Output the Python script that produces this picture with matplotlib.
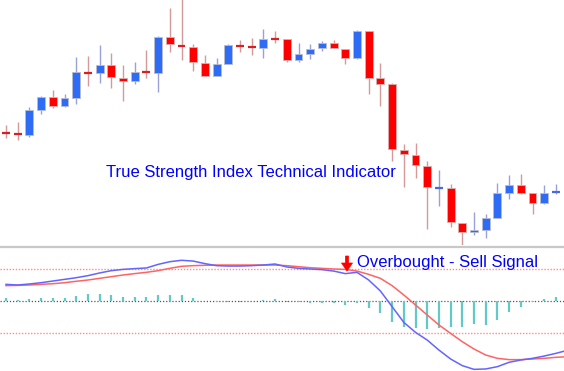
import matplotlib
matplotlib.use("Agg")
import matplotlib.pyplot as plt
from matplotlib.lines import Line2D
from matplotlib.patches import Polygon, Rectangle
import numpy as np

# ---------------- data ----------------
opens  = [112, 111, 110, 135, 148, 139, 147, 172, 172, 180, 167, 164, 173, 172, 208, 199,
          198, 182, 169, 181, 199, 198, 197, 206, 206, 185, 191, 197, 202, 196, 187, 214,
          167, 161, 95, 90, 79, 57, 57, 22, 13, 15, 27, 52, 60, 52, 42, 53, 59]
closes = [111.5, 110.5, 135, 148, 139, 147, 173, 171.5, 180, 168, 164, 173, 172.5, 208, 201, 198.5,
          183, 169, 181, 200, 198.5, 197.5, 206, 205.5, 185, 191, 196, 202, 197, 187, 214, 167,
          161, 96, 91, 80, 58, 57.5, 23, 13, 15, 27, 52, 60, 52, 42, 52, 53.5, 59.5]
highs  = [120, 123, 138, 149, 155, 151, 188, 189, 200, 192, 180, 183, 195, 209, 237, 250,
          201, 190, 187, 201, 205, 207, 216, 214, 206, 202, 201, 204, 205, 196, 215, 214,
          182, 162, 101, 102, 84, 75, 61, 22, 33, 31, 62, 70, 71, 52, 60, 61, 63]
lows   = [107, 105, 108, 131, 137, 138, 141, 159, 162, 157, 144, 161, 167, 153, 193, 185,
          174, 169, 169, 181, 193, 190, 187, 202, 183, 183, 186, 194, 197, 181, 186, 151,
          139, 84, 58, 67, 16, 39, 18, -2, 10, 7, 27, 46, 51, 31, 41, 51, 54]

tsi    = [13.0, 12.5, 13.3, 14.3, 15.6, 16.9, 18.2, 19.8, 21.9, 23.7, 24.7, 25.3, 25.8, 28.6,
          30.7, 31.8, 31.2, 29.2, 27.6, 27.3, 27.3, 27.6, 28.1, 28.9, 26.6, 25.5, 25.0, 24.5,
          23.4, 21.4, 22.4, 16.4, 7.8, -4.4, -16.7, -24.5, -30.5, -38.3, -45.3, -50.5, -53.4,
          -53.1, -51.3, -47.9, -46.1, -44.8, -43.0, -40.9, -38.5]
signal = [12.0, 12.2, 12.5, 13.0, 13.5, 14.3, 15.4, 16.4, 17.7, 19.0, 20.3, 21.4, 22.4, 23.7,
          25.5, 27.1, 27.6, 27.9, 28.1, 28.1, 28.1, 28.1, 28.1, 28.1, 27.6, 26.8, 26.0, 25.5,
          25.0, 24.7, 23.4, 20.8, 17.7, 12.0, 4.7, -3.1, -10.9, -18.7, -25.3, -31.8, -37.5,
          -42.2, -44.8, -45.8, -45.8, -45.3, -44.8, -44.0, -43.5]
hist   = [2.1, 0.8, 1.3, 2.6, 2.6, 2.1, 4.2, 5.2, 5.5, 4.7, 3.4, 3.4, 3.4, 4.7, 4.7, 4.7,
          2.6, 0.3, -0.5, -0.5, -0.5, 0.3, 0.8, 1.6, -0.5, -1.0, -1.6, -1.6, -1.8, -3.1, -1.8,
          -5.7, -9.6, -16.7, -20.1, -21.4, -21.9, -20.8, -20.1, -20.1, -18.2, -18.7, -14.8,
          -8.9, -4.4, -1.0, 1.3, 3.4]
levels = [25, -25]

title_text = "True Strength Index Technical Indicator"
signal_text = "Overbought - Sell Signal"

# ---------------- figure ----------------
W, H = 564, 371
fig = plt.figure(figsize=(W / 100, H / 100), dpi=100)
fig.patch.set_facecolor("white")

def px_rect(x0, y0, x1, y1):
    return [x0 / W, 1 - y1 / H, (x1 - x0) / W, (y1 - y0) / H]

ax = fig.add_axes(px_rect(0, 0, W, 245))
ax2 = fig.add_axes(px_rect(0, 248, W, H))
for a in (ax, ax2):
    a.set_axis_off()

xl = (-6 / 11.7, (W - 6) / 11.7)
ax.set_xlim(*xl)
ax.set_ylim(0, 245)

bull_body, bear_body = "#2f6cf5", "#ff0000"
bull_wick, bear_wick = "#9aa0d8", "#d49a9a"
bw = 0.68
for i, (o, h, l, c) in enumerate(zip(opens, highs, lows, closes)):
    up = c >= o
    wc = bull_wick if up else bear_wick
    bc = bull_body if up else bear_body
    ax.plot([i, i], [l, h], color=wc, lw=1.0, solid_capstyle="butt", zorder=1)
    lo, hi = min(o, c), max(o, c)
    if hi - lo < 1.5:
        ax.plot([i - bw / 2, i + bw / 2], [(o + c) / 2] * 2,
                color=("#4a6ad8" if up else "#d82020"), lw=1.6, zorder=2,
                solid_capstyle="butt")
    else:
        ax.add_patch(Rectangle((i - bw / 2, lo), bw, hi - lo, facecolor=bc,
                               edgecolor="#b8bcd0" if up else "#d8b0b0", lw=0.6, zorder=2))

ax.text(106 / 564 * (xl[1] - xl[0]) + xl[0], 245 - 173, title_text, color="#0000ff",
        fontsize=12, family="Liberation Sans", va="center", ha="left")

# ---------------- lower panel ----------------
ax2.set_xlim(*xl)
ax2.set_ylim((301 - 371) * 25 / 32, (301 - 248) * 25 / 32)
x = np.arange(len(tsi))
xh = np.arange(len(hist))
ax2.vlines(xh, 0, hist, color="#62c8c8", lw=1.6, zorder=2)
for lv in levels:
    ax2.axhline(lv, color="#ff8a8a", lw=1.0, ls=(0, (1, 1.2)), zorder=1)
ax2.axhline(0, color="#555555", lw=0.9, ls=(0, (1, 1.5)), zorder=1)
ax2.plot(x, signal, color="#ff6464", lw=1.1, zorder=3)
ax2.plot(x, tsi, color="#6464ff", lw=1.1, zorder=4)

ax2.text(357 / 564 * (xl[1] - xl[0]) + xl[0], (301 - 263) * 25 / 32, signal_text,
         color="#0000ff", fontsize=12, family="Liberation Sans", va="center", ha="left",
         zorder=5)

# red down arrow (pixel-positioned)
arrow_px = [(345.5, 256), (348.5, 256), (348.5, 263), (352.5, 263), (347, 271),
            (341.5, 263), (345.5, 263)]
fig.add_artist(Polygon([(px / W, 1 - py / H) for px, py in arrow_px], closed=True,
                       transform=fig.transFigure, facecolor="#ff0000", edgecolor="#ff0000",
                       lw=0.5))

# separator line
fig.add_artist(Line2D([0, 1], [1 - 246.5 / H] * 2, transform=fig.transFigure,
                      color="#c8c8c8", lw=1.6))

fig.savefig("out.png", dpi=100, facecolor="white")
